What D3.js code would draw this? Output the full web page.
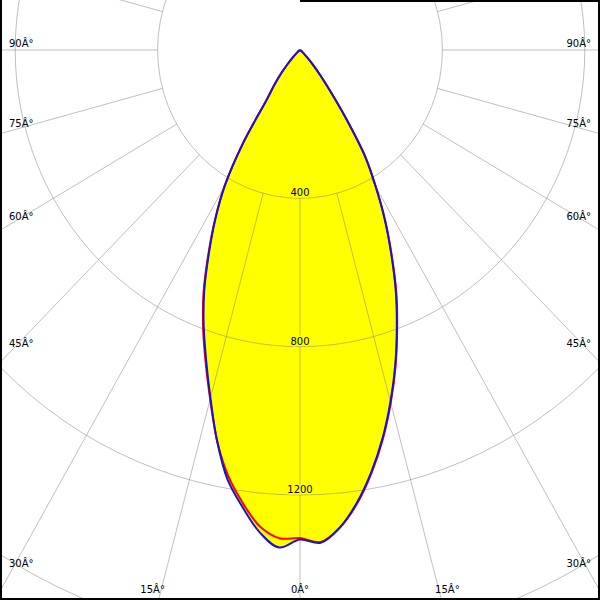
<!DOCTYPE html>
<html>
<head>
<meta charset="utf-8">
<script src="https://cdn.jsdelivr.net/npm/d3@7"></script>
<style>
html,body{margin:0;padding:0;background:#fff;}
svg{display:block;}
text{font-family:"DejaVu Sans",sans-serif;font-size:10px;fill:#000;}
</style>
</head>
<body>
<svg id="chart" width="600" height="600"></svg>
<script>
// gamma angles (degrees from nadir)
const gammaAngles = [0,2.5,5,7.5,10,12.5,15,17.5,20,22.5,25,27.5,30,32.5,35,37.5,40,42.5,45,50,55,60,70,80,90];
// C0-C180 plane (red): left half = C180, right half = C0
const redLeft  = [1316,1318,1290,1232,1165,1078,975,882,796,708,610,518,424,298,162,118,82,52,30,10,3,0,0,0,0];
const redRight = [1316,1328,1292,1233,1158,1075,985,893,798,707,609,518,426,341,225,138,88,55,30,10,3,0,0,0,0];
// C90-C270 plane (blue): left half = C270, right half = C90
const blueLeft  = [1320,1343,1305,1242,1175,1078,972,877,791,703,606,516,422,297,160,118,82,52,30,10,3,0,0,0,0];
const blueRight = [1320,1330,1292,1230,1155,1072,982,890,795,703,606,516,425,340,225,138,88,55,30,10,3,0,0,0,0];
// grid
const ringValues = [400,800,1200,1600,2000,2400];
const ringLabels = ["400","800","1200"];
const spokeAngles = d3.range(-180,181,15);
const angleTicks = [0,15,30,45,60,75,90];
const angleTickLabels = ["0Â°","15Â°","30Â°","45Â°","60Â°","75Â°","90Â°"];

const W = 600, H = 600;
const cx = 300, cy = 50, sx = 0.96;
const r = d3.scaleLinear().domain([0,400]).range([0,148.33]);

const svg = d3.select("#chart");
svg.append("rect").attr("width",W).attr("height",H).attr("fill","#fff");

function pt(I, g, side){
  const a = g*Math.PI/180;
  return [cx + side*sx*r(I)*Math.sin(a), cy + r(I)*Math.cos(a)];
}
function outline(left, right){
  const pts = [];
  for(let i=gammaAngles.length-1;i>=0;i--) pts.push(pt(left[i], gammaAngles[i], -1));
  for(let i=1;i<gammaAngles.length;i++) pts.push(pt(right[i], gammaAngles[i], 1));
  return pts;
}
const line = d3.line().curve(d3.curveCatmullRom.alpha(0.5));

const bluePts = outline(blueLeft, blueRight);
const redPts = outline(redLeft, redRight);

// fill
svg.append("path").attr("d", line(bluePts)+"Z").attr("fill","#ffff00").attr("stroke","none");
svg.append("path").attr("d", line(redPts)+"Z").attr("fill","#ffff00").attr("stroke","none");

// grid
const grid = svg.append("g").attr("fill","none").attr("stroke","rgb(128,128,128)").attr("stroke-opacity",0.5).attr("stroke-width",1);
ringValues.forEach(v=>{
  grid.append("ellipse").attr("cx",cx).attr("cy",cy).attr("rx",sx*r(v)).attr("ry",r(v));
});
spokeAngles.forEach(a=>{
  if(a===-180) return;
  const p0 = pt(400, Math.abs(a), a<0?-1:1);
  const p1 = pt(4000, Math.abs(a), a<0?-1:1);
  grid.append("line").attr("x1",p0[0]).attr("y1",p0[1]).attr("x2",p1[0]).attr("y2",p1[1]);
});

// curves
svg.append("path").attr("d", line(redPts)).attr("fill","none").attr("stroke","#ff0000").attr("stroke-width",2).attr("stroke-linejoin","round");
svg.append("path").attr("d", line(bluePts)).attr("fill","none").attr("stroke","#1414d2").attr("stroke-width",2).attr("stroke-linejoin","round");

// ring labels
ringLabels.forEach((t,i)=>{
  svg.append("text").attr("x",cx).attr("y",cy + r(ringValues[i]) - 2)
    .attr("text-anchor","middle")
    .attr("stroke","#ffff00").attr("stroke-width",3).attr("paint-order","stroke")
    .text(t);
});

// angle labels
angleTicks.forEach((a,i)=>{
  const t = angleTickLabels[i];
  const rad = a*Math.PI/180;
  [-1,1].forEach(side=>{
    if(a===0 && side===1) return;
    const yEdge = a===0 ? Infinity : cy + cx/Math.tan(rad);
    if(yEdge < H - 20){
      svg.append("text")
        .attr("x", side<0 ? 9 : W-9)
        .attr("y", yEdge - 3)
        .attr("text-anchor", side<0 ? "start" : "end")
        .text(t);
    } else {
      svg.append("text")
        .attr("x", cx + side*(H-cy)*Math.tan(rad))
        .attr("y", H - 7)
        .attr("text-anchor","middle")
        .text(t);
    }
  });
});

// frame
const frame = svg.append("g").attr("stroke","#000").attr("stroke-width",2);
frame.append("line").attr("x1",1).attr("y1",0).attr("x2",1).attr("y2",H);
frame.append("line").attr("x1",0).attr("y1",H-1).attr("x2",W).attr("y2",H-1);
frame.append("line").attr("x1",W-1).attr("y1",0).attr("x2",W-1).attr("y2",H);
frame.append("line").attr("x1",300).attr("y1",1).attr("x2",W).attr("y2",1);
</script>
</body>
</html>
